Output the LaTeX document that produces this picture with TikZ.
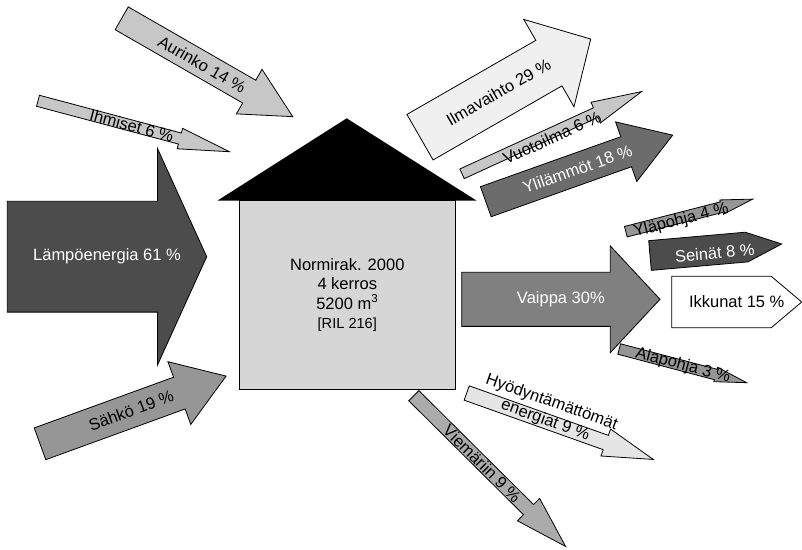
\documentclass[tikz,border=0pt]{standalone}
\usepackage{fontspec}
\setmainfont{Liberation Sans}
\usetikzlibrary{shapes.arrows, calc}
\definecolor{roofblack}{gray}{0}
\definecolor{housegray}{gray}{0.84}
\definecolor{darkflow}{gray}{0.30}
\definecolor{midflow}{gray}{0.50}
\definecolor{greyflow}{gray}{0.59}
\definecolor{paleflow}{gray}{0.78}
\definecolor{lightflow}{gray}{0.90}
\definecolor{whiteflow}{gray}{0.94}
\tikzset{
  flow/.style={
      single arrow,
      draw=black,
      line width=0.8pt,
      inner xsep=0pt,
      outer sep=0pt,
      single arrow head extend=0pt,
      anchor=tail
  },
  flowtext/.style={
      font=\fontsize{16.5}{19}\selectfont,
      inner sep=0pt,
      align=center
  },
  house/.style={
      draw=black,
      fill=housegray,
      rectangle,
      line width=0.8pt,
      minimum width=216.7pt,
      minimum height=188.3pt,
      align=center,
      font=\fontsize{16.5}{19.5}\selectfont
  }
}

\begin{document}
\begin{tikzpicture}[x=1pt, y=-1pt]
      \useasboundingbox (0,0) rectangle (802,549);
      % Building
      \node (house) [house] at (347.3,294.8) {Normirak. 2000\\4 kerros\\5200 m\textsuperscript{3}\\{\fontsize{14.6}{17}\selectfont [RIL 216]}};
      \fill[roofblack] (217.3,200.7) -- (346.7,118.3) -- (476.7,200.7) -- cycle;

      % Incoming energy
      \node (aurinko) [flow, fill=paleflow, rotate=-29.9, minimum height=197.3pt, inner ysep=12.75pt, single arrow head extend=12.55pt, single arrow tip angle=54.2] at (121.7,18.3) {};
      \node (aurinko-text) [flowtext, rotate=-29.9] at ($(aurinko.tail)!0.47!(aurinko.tip)$) {Aurinko 14 \%};

      \node (ihmiset) [flow, fill=paleflow, rotate=-14.9, minimum height=198pt, inner ysep=5.3pt, single arrow head extend=4.9pt, single arrow tip angle=23.4] at (38,100.8) {};
      \node (ihmiset-text) [flowtext, rotate=-14.9] at ($(ihmiset.tail)!0.49!(ihmiset.tip)$) {Ihmiset 6 \%};

      \node (lampo) [flow, fill=darkflow, minimum height=199.4pt, inner ysep=55pt, single arrow head extend=52.85pt, single arrow tip angle=131.1] at (7.3,256.7) {};
      \node (lampo-text) [flowtext, text=white] at ($(lampo.tail)!0.5!(lampo.tip)$) {Lämpöenergia 61 \%};

      \node (sahko) [flow, fill=greyflow, rotate=20, minimum height=198pt, inner ysep=16.5pt, single arrow head extend=16.5pt, single arrow tip angle=67.8] at (40,443.8) {};
      \node (sahko-text) [flowtext, rotate=20] at ($(sahko.tail)!0.49!(sahko.tip)$) {Sähkö 19 \%};

      % Outgoing energy
      \node (ilmavaihto) [flow, fill=whiteflow, rotate=29.9, minimum height=196.9pt, inner ysep=25.85pt, single arrow head extend=24.15pt, single arrow tip angle=92.5] at (420,137.2) {};
      \node (ilmavaihto-text) [flowtext, rotate=29.9] at ($(ilmavaihto.tail)!0.46!(ilmavaihto.tip)$) {Ilmavaihto 29 \%};

      \node (vuotoilma) [flow, fill=paleflow, rotate=24.6, minimum height=197.6pt, inner ysep=4.9pt, single arrow head extend=6.05pt, single arrow tip angle=25.3] at (462,173.8) {};
      \node (vuotoilma-text) [flowtext, rotate=24.6, yshift=-4.5pt] at ($(vuotoilma.tail)!0.49!(vuotoilma.tip)$) {Vuotoilma 6 \%};

      \node (ylilammot) [flow, fill=midflow!85!black, rotate=19.6, minimum height=198.4pt, inner ysep=15.55pt, single arrow head extend=15.7pt, single arrow tip angle=65.3] at (485.8,201.7) {};
      \node (ylilammot-text) [flowtext, text=white, rotate=19.6] at ($(ylilammot.tail)!0.49!(ylilammot.tip)$) {Ylilämmöt 18 \%};

      \node (vaippa) [flow, fill=midflow, minimum height=198.3pt, inner ysep=26.65pt, single arrow head extend=26.35pt, single arrow tip angle=94.1] at (461.7,299.3) {};
      \node (vaippa-text) [flowtext, text=white] at ($(vaippa.tail)!0.5!(vaippa.tip)$) {Vaippa 30\%};

      \node (hyody) [flow, fill=lightflow, rotate=-19.6, minimum height=198pt, inner ysep=7.2pt, single arrow head extend=6.7pt, single arrow tip angle=31.7] at (466.7,393) {};
      \node (hyody-text) [flowtext, rotate=-19.6, yshift=10pt] at ($(hyody.tail)!0.42!(hyody.tip)$) {Hyödyntämättömät\\energiat 9 \%};

      \node (viemariin) [flow, fill=greyflow!80!white, rotate=-44.8, minimum height=214pt, inner ysep=6.75pt, single arrow head extend=8.6pt, single arrow tip angle=33.5] at (413.8,395.7) {};
      \node (viemariin-text) [flowtext, rotate=-44.8] at ($(viemariin.tail)!0.45!(viemariin.tip)$) {Viemäriin 9 \%};

      % Envelope split
      \node (ylapohja) [flow, fill=greyflow, rotate=14.4, minimum height=131pt, inner ysep=5pt, single arrow head extend=2pt, single arrow tip angle=26] at (625.8,231.7) {};
      \node (ylapohja-text) [flowtext, rotate=14.4, yshift=-3pt] at ($(ylapohja.tail)!0.43!(ylapohja.tip)$) {Yläpohja 4 \%};

      \node (seinat) [flow, fill=darkflow, rotate=5, minimum height=132.2pt, inner ysep=14.5pt, single arrow tip angle=45.8] at (650,255.5) {};
      \node (seinat-text) [flowtext, text=white, rotate=5, yshift=-3pt] at ($(seinat.tail)!0.49!(seinat.tip)$) {Seinät 8 \%};

      \node (ikkunat) [flow, fill=white, minimum height=130pt, inner ysep=25.3pt, single arrow tip angle=80.3] at (671.7,302) {};
      \node (ikkunat-text) [flowtext] at ($(ikkunat.tail)!0.5!(ikkunat.tip)$) {Ikkunat 15 \%};

      \node (alapohja) [flow, fill=greyflow, rotate=-14.8, minimum height=131.9pt, inner ysep=5pt, single arrow head extend=2pt, single arrow tip angle=26] at (619.2,349) {};
      \node (alapohja-text) [flowtext, rotate=-14.8] at ($(alapohja.tail)!0.5!(alapohja.tip)$) {Alapohja 3 \%};
\end{tikzpicture}
\end{document}
